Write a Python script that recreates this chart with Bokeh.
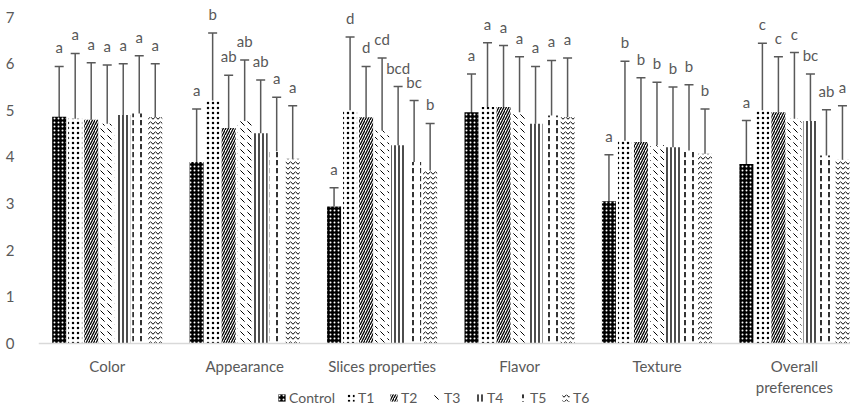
from bokeh.plotting import figure
from bokeh.models import (Range1d, ColumnDataSource, Whisker, TeeHead, LabelSet,
                          Legend, LegendItem, FixedTicker, Span)
from bokeh.core.properties import value
from bokeh.transform import dodge
from bokeh.embed import file_html
from bokeh.resources import INLINE

categories = ["Color", "Appearance", "Slices properties", "Flavor", "Texture", "Overall\npreferences"]
series = ["Control", "T1", "T2", "T3", "T4", "T5", "T6"]

# means
control = [4.86, 3.89, 2.94, 4.96, 3.05, 3.85]
t1 = [4.82, 5.21, 5.00, 5.07, 4.35, 5.00]
t2 = [4.80, 4.62, 4.85, 5.07, 4.32, 4.96]
t3 = [4.71, 4.77, 4.57, 4.96, 4.25, 4.82]
t4 = [4.90, 4.51, 4.25, 4.71, 4.21, 4.77]
t5 = [4.93, 4.12, 3.89, 4.89, 4.14, 4.03]
t6 = [4.85, 3.96, 3.71, 4.85, 4.07, 3.94]

# error bar ends (upper / lower)
control_hi = [5.94, 5.03, 3.34, 5.78, 4.05, 4.78]
control_lo = [3.85, 2.91, 1.94, 3.95, 2.06, 2.84]
t1_hi = [6.22, 6.66, 6.57, 6.45, 6.05, 6.44]
t1_lo = [3.89, 4.22, 4.03, 4.10, 3.41, 4.02]
t2_hi = [6.02, 5.75, 5.94, 6.39, 5.70, 6.15]
t2_lo = [3.80, 3.63, 3.85, 4.05, 3.30, 3.96]
t3_hi = [5.97, 6.08, 6.12, 6.15, 5.60, 6.24]
t3_lo = [3.70, 3.75, 3.67, 3.96, 3.25, 3.85]
t4_hi = [6.00, 5.65, 5.51, 5.94, 5.50, 5.78]
t4_lo = [3.89, 3.50, 3.25, 3.69, 3.21, 3.75]
t5_hi = [6.17, 5.28, 5.21, 6.07, 5.55, 5.01]
t5_lo = [4.02, 3.13, 2.91, 3.89, 3.14, 3.05]
t6_hi = [6.00, 5.10, 4.72, 6.12, 5.03, 5.10]
t6_lo = [3.85, 2.96, 2.78, 3.85, 3.08, 2.96]

# significance letters
control_sig = ["a", "a", "a", "a", "a", "a"]
t1_sig = ["a", "b", "d", "a", "b", "c"]
t2_sig = ["a", "ab", "d", "a", "b", "c"]
t3_sig = ["a", "ab", "cd", "a", "b", "c"]
t4_sig = ["a", "ab", "bcd", "a", "b", "bc"]
t5_sig = ["a", "a", "bc", "a", "b", "ab"]
t6_sig = ["a", "a", "b", "a", "b", "a"]

y_ticks = [0, 1, 2, 3, 4, 5, 6, 7]

means = [control, t1, t2, t3, t4, t5, t6]
highs = [control_hi, t1_hi, t2_hi, t3_hi, t4_hi, t5_hi, t6_hi]
lows = [control_lo, t1_lo, t2_lo, t3_lo, t4_lo, t5_lo, t6_lo]
sigs = [control_sig, t1_sig, t2_sig, t3_sig, t4_sig, t5_sig, t6_sig]

styles = [
    dict(fill_color="black", hatch_pattern=".", hatch_color="white", hatch_scale=4, hatch_weight=1.6),
    dict(fill_color="white", hatch_pattern=".", hatch_color="black", hatch_scale=5, hatch_weight=1.3),
    dict(fill_color="white", hatch_pattern="/", hatch_color="black", hatch_scale=5, hatch_weight=1.3),
    dict(fill_color="white", hatch_pattern="`", hatch_color="black", hatch_scale=7, hatch_weight=1.0),
    dict(fill_color="white", hatch_pattern="|", hatch_color="black", hatch_scale=4, hatch_weight=1.4),
    dict(fill_color="white", hatch_pattern=":", hatch_color="black", hatch_scale=8, hatch_weight=1.6),
    dict(fill_color="white", hatch_pattern="v", hatch_color="black", hatch_scale=5, hatch_weight=1.0),
]

FONT = "Lato"
GREY = "#595959"

# frame spans the whole height; value 0 sits at y=343 px, 7 at y=16.7 px
p = figure(frame_width=812, frame_height=412, x_range=Range1d(0.5, 6.408),
           y_range=Range1d(-1.479, 7.355),
           output_backend="svg", toolbar_location=None,
           min_border_left=38, min_border_right=0, min_border_top=0, min_border_bottom=0)
p.outline_line_color = None
p.xgrid.visible = False
p.ygrid.visible = False
p.xaxis.visible = False

gx = list(range(1, len(categories) + 1))
step = 0.1165
bw = 0.102
items = []
for i, name in enumerate(series):
    src = ColumnDataSource(dict(gx=gx, m=means[i], hi=highs[i], lo=lows[i], sig=sigs[i]))
    off = (i - 3) * step
    r = p.vbar(x=dodge("gx", off), top="m", width=bw, bottom=0, source=src,
               line_color=None, **styles[i])
    items.append(LegendItem(label=name, renderers=[r]))
    w = Whisker(base=dodge("gx", off), upper="hi", lower="lo", source=src,
                line_color=GREY, line_width=1.5,
                upper_head=TeeHead(size=9, line_color=GREY, line_width=1.5),
                lower_head=TeeHead(size=9, line_color=GREY, line_width=1.5))
    p.add_layout(w)
    lab = LabelSet(x=dodge("gx", off), y="hi", text="sig", source=src,
                   text_align="center", text_baseline="alphabetic", y_offset=13,
                   text_font=value(FONT), text_font_size=value("15px"), text_color=GREY)
    p.add_layout(lab)

# category axis line and labels
p.add_layout(Span(location=0, dimension="width", line_color="#d9d9d9", line_width=1.5))
cat_src = ColumnDataSource(dict(gx=gx, y=[0] * len(gx), name=categories))
p.text(x="gx", y="y", text="name", source=cat_src, text_align="center",
       text_baseline="top", y_offset=13, text_font=value(FONT), text_font_size=value("15px"),
       text_color=GREY, text_line_height=1.2)

p.yaxis.ticker = FixedTicker(ticks=y_ticks)
p.yaxis.axis_line_color = None
p.yaxis.major_tick_line_color = None
p.yaxis.minor_tick_line_color = None
p.yaxis.major_label_text_font = FONT
p.yaxis.major_label_text_font_size = "15px"
p.yaxis.major_label_text_color = GREY
p.yaxis.major_label_standoff = 18

legend = Legend(items=items, orientation="horizontal", location=(239, 6),
                glyph_width=9, glyph_height=9, label_standoff=3, spacing=11,
                label_height=12, padding=0, margin=0, border_line_color=None,
                background_fill_alpha=0,
                label_text_font=FONT, label_text_font_size="14px", label_text_color=GREY)
p.add_layout(legend)

open("out.html", "w").write(file_html(p, INLINE))
